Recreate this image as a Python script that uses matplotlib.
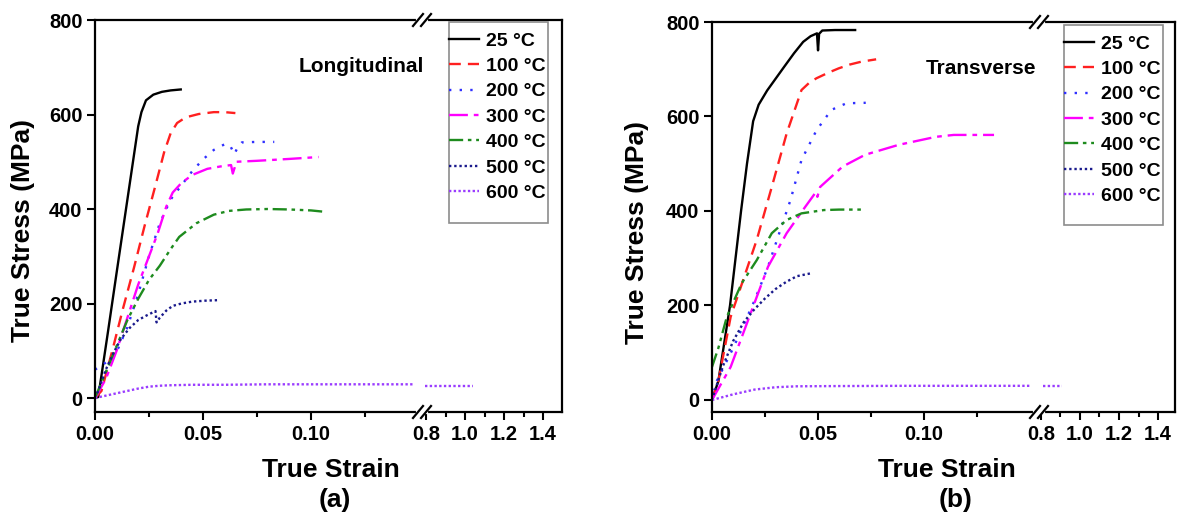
#!/usr/bin/env python3
"""True stress-strain curves at several temperatures, longitudinal vs transverse."""

import numpy as np
import matplotlib

matplotlib.use("Agg")
import matplotlib.pyplot as plt
from matplotlib.lines import Line2D
from matplotlib.patches import Rectangle

plt.rcParams["font.family"] = ["Liberation Sans", "DejaVu Sans"]
plt.rcParams["font.weight"] = "bold"

W, H = 1181, 522

labels = ["25 °C", "100 °C", "200 °C", "300 °C", "400 °C", "500 °C", "600 °C"]
colors = ["#000000", "#ff2020", "#3030ff", "#ff00ff", "#1e8b1e", "#1a1a8c", "#9a3cff"]
styles = ["-", (0, (5, 3)), (0, (1, 3.5)), (0, (8, 2.5, 2, 2.5)),
          (0, (6, 2, 1.5, 2, 1.5, 2)), (0, (1, 1.2)), (0, (1, 1))]

# (a) longitudinal
long_25_x = [0, 0.0015, 0.006, 0.010, 0.015, 0.020, 0.0215, 0.0236, 0.027, 0.031, 0.035, 0.0397]
long_25_y = [0, 2, 140, 265, 420, 575, 605, 630, 642, 648, 651, 653]
long_100_x = [0, 0.003, 0.008, 0.013, 0.018, 0.023, 0.028, 0.032, 0.035, 0.038, 0.042, 0.048, 0.055, 0.060, 0.065]
long_100_y = [0, 15, 100, 190, 275, 365, 450, 520, 560, 582, 594, 601, 605, 605, 603]
long_200_x = [0, 0.005, 0.0094, 0.015, 0.020, 0.025, 0.030, 0.035, 0.040, 0.045, 0.050, 0.055, 0.060,
              0.0625, 0.0645, 0.066, 0.068, 0.075, 0.083]
long_200_y = [60, 75, 91, 150, 220, 300, 370, 420, 450, 480, 505, 525, 537, 535, 516, 530, 541, 542, 542]
long_300_x = [0, 0.005, 0.010, 0.015, 0.020, 0.025, 0.029, 0.033, 0.036, 0.040, 0.045, 0.052, 0.058,
              0.063, 0.0638, 0.0655, 0.075, 0.090, 0.1035]
long_300_y = [0, 40, 100, 170, 240, 300, 348, 405, 435, 455, 472, 485, 490, 493, 475, 500, 502, 506, 510]
long_400_x = [0, 0.005, 0.010, 0.015, 0.020, 0.025, 0.030, 0.035, 0.039, 0.047, 0.055, 0.062, 0.070,
              0.080, 0.090, 0.100, 0.1065]
long_400_y = [0, 55, 110, 165, 210, 250, 280, 315, 341, 370, 388, 396, 399, 400, 399, 397, 394]
long_500_x = [0, 0.0015, 0.005, 0.0085, 0.012, 0.016, 0.020, 0.024, 0.028, 0.0285, 0.030, 0.033,
              0.036, 0.040, 0.045, 0.051, 0.0565]
long_500_y = [0, 15, 60, 95, 125, 148, 165, 175, 184, 160, 170, 185, 195, 200, 204, 206, 207]
long_600_x = [0, 0.005, 0.010, 0.015, 0.020, 0.025, 0.030, 0.035, 0.045, 0.060, 0.080, 0.100, 0.120,
              0.147, 0.795, 0.900, 1.040]
long_600_y = [0, 5, 10, 15, 20, 24, 26, 27, 28, 28, 29, 29, 29, 29, 26, 26, 26]

# (b) transverse
trans_25_x = [0, 0.003, 0.0085, 0.0137, 0.0165, 0.0194, 0.022, 0.026, 0.030, 0.034, 0.0387, 0.043,
              0.0465, 0.0495, 0.0500, 0.0505, 0.052, 0.058, 0.0675]
trans_25_y = [0, 40, 200, 400, 500, 590, 625, 655, 680, 705, 734, 758, 770, 776, 740, 775, 782, 783, 783]
trans_100_x = [0, 0.003, 0.0088, 0.015, 0.0211, 0.0282, 0.0352, 0.0422, 0.046, 0.0493, 0.055, 0.0598,
               0.065, 0.0704, 0.0774]
trans_100_y = [0, 40, 176, 258, 339, 451, 564, 656, 672, 681, 693, 702, 710, 716, 721]
trans_200_x = [0, 0.005, 0.010, 0.015, 0.020, 0.0264, 0.0317, 0.037, 0.0422, 0.0493, 0.0563, 0.0634, 0.0725]
trans_200_y = [20, 65, 110, 160, 210, 282, 353, 423, 508, 571, 614, 628, 629]
trans_300_x = [0, 0.0088, 0.0176, 0.0264, 0.0352, 0.044, 0.049, 0.0497, 0.051, 0.0616, 0.0722, 0.088,
               0.1056, 0.114, 0.133]
trans_300_y = [0, 70, 176, 282, 353, 409, 440, 430, 451, 494, 519, 540, 557, 561, 561]
trans_400_x = [0, 0.003, 0.007, 0.014, 0.0211, 0.0282, 0.0352, 0.0422, 0.0528, 0.060, 0.0704]
trans_400_y = [70, 110, 176, 247, 296, 353, 381, 395, 402, 403, 403]
trans_500_x = [0, 0.005, 0.010, 0.015, 0.020, 0.025, 0.030, 0.035, 0.040, 0.0465]
trans_500_y = [0, 70, 125, 165, 192, 215, 235, 250, 262, 268]
trans_600_x = [0, 0.010, 0.020, 0.030, 0.040, 0.060, 0.090, 0.120, 0.150, 0.810, 0.910]
trans_600_y = [0, 12, 22, 27, 29, 29.5, 30, 30, 30, 29, 29]

left_ticks = [0, 0.05, 0.10]
left_ticklabels = ["0.00", "0.05", "0.10"]
right_ticks = [0.8, 1.0, 1.2, 1.4]
right_ticklabels = ["0.8", "1.0", "1.2", "1.4"]
stress_ticks = [0, 200, 400, 600, 800]


def px_rect(x0, y0, x1, y1):
    return [x0 / W, 1 - y1 / H, (x1 - x0) / W, (y1 - y0) / H]


def fx(x):
    return x / W


def fy(y):
    return 1 - y / H


def break_mark(fig, xp, yp):
    fig.add_artist(Line2D([fx(xp - 4), fx(xp + 4)], [fy(yp), fy(yp)], color="white", lw=3, zorder=10))
    for c in (xp - 4, xp + 4):
        fig.add_artist(Line2D([fx(c - 5), fx(c + 5)], [fy(yp + 6), fy(yp - 6)], color="black", lw=1.6, zorder=11))


def panel(fig, box, xbreak, lim_left, lim_right, ylim, series, legend_box, tag, tag_xy,
          label_x, label_y, letter_xy):
    x0, y0, x1, y1 = box
    ax_l = fig.add_axes(px_rect(x0, y0, xbreak, y1))
    ax_r = fig.add_axes(px_rect(xbreak, y0, x1, y1))
    handles = []
    for (xs, ys), lab, col, ls in zip(series, labels, colors, styles):
        xs = np.array(xs)
        ys = np.array(ys)
        m = xs <= lim_left[1]
        h, = ax_l.plot(xs[m], ys[m], color=col, ls=ls, lw=1.7, label=lab)
        m2 = xs >= lim_right[0]
        if m2.any():
            ax_r.plot(xs[m2], ys[m2], color=col, ls=ls, lw=1.7)
        handles.append(h)

    for ax in (ax_l, ax_r):
        ax.set_ylim(*ylim)
        for s in ax.spines.values():
            s.set_linewidth(1.6)
        ax.tick_params(direction="out", length=6, width=1.5, labelsize=14.5, pad=3)
        ax.tick_params(which="minor", direction="out", length=3.5, width=1.5)

    ax_l.set_xlim(*lim_left)
    ax_l.set_xticks(left_ticks)
    ax_l.set_xticklabels(left_ticklabels)
    ax_l.set_xticks([0.025, 0.075, 0.125], minor=True)
    ax_l.set_yticks(stress_ticks)
    ax_l.spines["right"].set_visible(False)

    ax_r.set_xlim(*lim_right)
    ax_r.set_xticks(right_ticks)
    ax_r.set_xticklabels(right_ticklabels)
    ax_r.set_xticks([0.9, 1.1, 1.3], minor=True)
    ax_r.set_yticks([])
    ax_r.spines["left"].set_visible(False)

    break_mark(fig, xbreak, y0)
    break_mark(fig, xbreak, y1)

    lx0, ly0, lx1, ly1 = legend_box
    ax_r.add_patch(Rectangle((fx(lx0), fy(ly1)), fx(lx1) - fx(lx0), fy(ly0) - fy(ly1),
                             transform=fig.transFigure, facecolor="white", clip_on=False,
                             edgecolor="#8c8c8c", lw=1.2, zorder=4))
    leg = ax_r.legend(handles, labels, loc="upper left", bbox_to_anchor=(fx(lx0), fy(ly0 + 10)),
                      bbox_transform=fig.transFigure, frameon=False, borderpad=0,
                      borderaxespad=0, fontsize=14, handlelength=1.55, handletextpad=0.35,
                      labelspacing=0.4)
    leg.set_zorder(6)

    fig.text(fx(tag_xy[0]), fy(tag_xy[1]), tag, fontsize=15, ha="center", va="center")
    fig.text(fx(label_x[0]), fy(label_x[1]), "True Strain", fontsize=19, ha="center", va="center")
    fig.text(fx(label_y[0]), fy(label_y[1]), "True Stress (MPa)", fontsize=19, ha="center",
             va="center", rotation=90)
    fig.text(fx(letter_xy[1][0]), fy(letter_xy[1][1]), letter_xy[0], fontsize=19, ha="center", va="center")


def main():
    fig = plt.figure(figsize=(W / 100, H / 100), dpi=100)

    long_series = [(long_25_x, long_25_y), (long_100_x, long_100_y), (long_200_x, long_200_y),
                   (long_300_x, long_300_y), (long_400_x, long_400_y), (long_500_x, long_500_y),
                   (long_600_x, long_600_y)]
    trans_series = [(trans_25_x, trans_25_y), (trans_100_x, trans_100_y), (trans_200_x, trans_200_y),
                    (trans_300_x, trans_300_y), (trans_400_x, trans_400_y), (trans_500_x, trans_500_y),
                    (trans_600_x, trans_600_y)]

    panel(fig, (95, 20, 562, 412), 422, (0, 0.1514), (0.7795, 1.497), (-29.6, 800),
          long_series, (449, 22, 548, 223), "Longitudinal", (361, 67),
          (331, 470), (23, 231), ("(a)", (335, 500)))
    panel(fig, (712, 22, 1175, 412), 1039, (0, 0.1542), (0.79, 1.487), (-25.4, 800),
          trans_series, (1064, 25, 1163, 225), "Transverse", (981, 68),
          (947, 470), (637, 232), ("(b)", (956, 500)))

    fig.savefig("out.png", dpi=100)


if __name__ == "__main__":
    main()
